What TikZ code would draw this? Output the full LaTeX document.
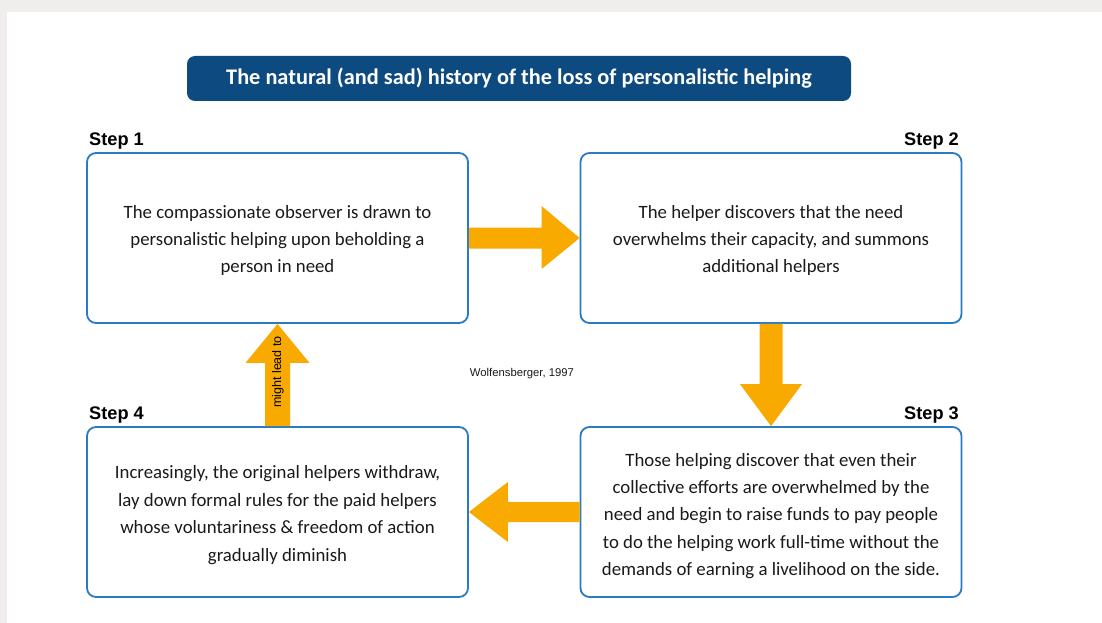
\documentclass[tikz,border=0pt]{standalone}
\usepackage{fontspec}
\setmainfont{Carlito}
\newfontfamily\helv{Liberation Sans}
\usetikzlibrary{calc}
\definecolor{bgray}{HTML}{EFEEEC}
\definecolor{tblue}{HTML}{0D4A80}
\definecolor{bblue}{HTML}{2A7BC6}
\definecolor{aorange}{HTML}{F9AA00}
\definecolor{tgray}{HTML}{1A1A1A}
\tikzset{
  stepbox/.style={draw=bblue, line width=1.8pt, rounded corners=9pt, fill=white,
    minimum width=381pt, minimum height=170pt, inner sep=0pt},
  boxtext/.style={align=center, text=tgray, font=\fontsize{18.8}{27.4}\selectfont, inner sep=0pt},
  steplabel/.style={font=\helv\bfseries\fontsize{18.2}{20}\selectfont, text=black, inner sep=0pt},
  bigarrow/.style={fill=aorange, draw=none},
}
\begin{document}
\begin{tikzpicture}[x=1pt,y=-1pt]
\useasboundingbox (0,0) rectangle (1102,623);
\fill[bgray] (0,0) rectangle (1102,623);
\fill[white] (7,12) rectangle (1102,623);

\node[fill=tblue, rounded corners=8pt, minimum width=664pt, minimum height=45pt, inner sep=0pt,
  text=white, font=\bfseries\fontsize{22.3}{24}\selectfont] (title) at (519,78.5)
  {\raisebox{-1pt}{The natural (and sad) history of the loss of personalistic helping}};

\node[stepbox] (b1) at (277.5,238) {};
\node[stepbox] (b2) at (771,238) {};
\node[stepbox] (b3) at (771,512) {};
\node[stepbox] (b4) at (277.5,512) {};

\node[boxtext] (t1) at ($(b1.center)+(0,2.5)$) {The compassionate observer is drawn to\\personalistic helping upon beholding a\\person in need};
\node[boxtext] (t2) at ($(b2.center)+(0,2.5)$) {The helper discovers that the need\\overwhelms their capacity, and summons\\additional helpers};
\node[boxtext] (t3) at ($(b3.center)+(0,4)$) {Those helping discover that even their\\collective efforts are overwhelmed by the\\need and begin to raise funds to pay people\\to do the helping work full-time without the\\demands of earning a livelihood on the side.};
\node[boxtext] (t4) at ($(b4.center)+(0,3)$) {Increasingly, the original helpers withdraw,\\lay down formal rules for the paid helpers\\whose voluntariness \& freedom of action\\gradually diminish};

\node[steplabel, anchor=west] (l1) at (89,141) {Step 1};
\node[steplabel, anchor=east] (l2) at (959,141) {Step 2};
\node[steplabel, anchor=east] (l3) at (959,415) {Step 3};
\node[steplabel, anchor=west] (l4) at (89,415) {Step 4};

% right arrow b1 -> b2
\fill[bigarrow] ($(b1.east)+(0,-10.5)$) -- ($(b2.west)+(-38,-10.5)$) -- ($(b2.west)+(-38,-32)$)
  -- (b2.west) -- ($(b2.west)+(-38,31)$) -- ($(b2.west)+(-38,10.5)$) -- ($(b1.east)+(0,10.5)$) -- cycle;
% down arrow b2 -> b3
\fill[bigarrow] ($(b2.south)+(-11.5,0)$) -- ($(b3.north)+(-11.5,-42)$) -- ($(b3.north)+(-31,-42)$)
  -- (b3.north) -- ($(b3.north)+(31,-42)$) -- ($(b3.north)+(11.5,-42)$) -- ($(b2.south)+(11.5,0)$) -- cycle;
% left arrow b3 -> b4
\fill[bigarrow] ($(b3.west)+(0,-10)$) -- ($(b4.east)+(39,-10)$) -- ($(b4.east)+(39,-30)$)
  -- (b4.east) -- ($(b4.east)+(39,30)$) -- ($(b4.east)+(39,10)$) -- ($(b3.west)+(0,10)$) -- cycle;
% up arrow b4 -> b1
\fill[bigarrow] ($(b4.north)+(-12.5,0)$) -- ($(b1.south)+(-12.5,39)$) -- ($(b1.south)+(-32,39)$)
  -- (b1.south) -- ($(b1.south)+(32,39)$) -- ($(b1.south)+(12.5,39)$) -- ($(b4.north)+(12.5,0)$) -- cycle;
\node[rotate=90, font=\helv\fontsize{12.5}{14}\selectfont, inner sep=0pt] (lead) at (278,372) {might lead to};

\node[font=\helv\fontsize{11.3}{13}\selectfont, text=tgray, inner sep=0pt] (cite) at (522,374) {Wolfensberger, 1997};
\end{tikzpicture}
\end{document}
